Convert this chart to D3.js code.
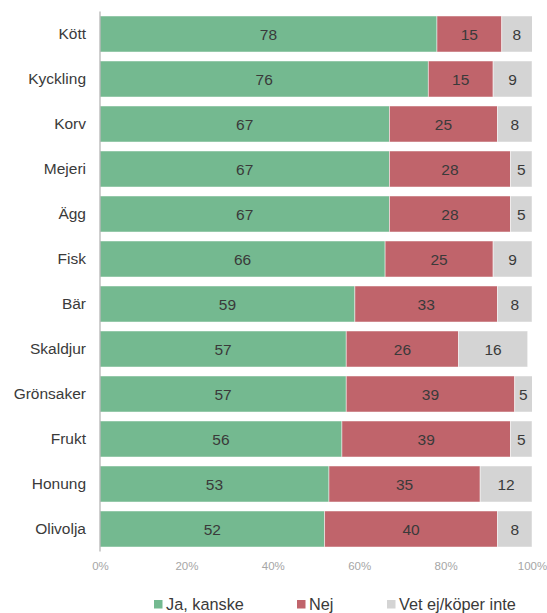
<!DOCTYPE html>
<html>
<head>
<meta charset="utf-8">
<script src="https://cdn.jsdelivr.net/npm/d3@7"></script>
<style>
  html, body { margin: 0; padding: 0; background: #fff; }
  svg { display: block; font-family: Arial, "Liberation Sans", sans-serif; }
</style>
</head>
<body>
<svg id="chart" width="547" height="613"></svg>
<script>
const categories = ["Kött", "Kyckling", "Korv", "Mejeri", "Ägg", "Fisk", "Bär", "Skaldjur", "Grönsaker", "Frukt", "Honung", "Olivolja"];
const jaKanske = [78, 76, 67, 67, 67, 66, 59, 57, 57, 56, 53, 52];
const nej = [15, 15, 25, 28, 28, 25, 33, 26, 39, 39, 35, 40];
const vetEj = [8, 9, 8, 5, 5, 9, 8, 16, 5, 5, 12, 8];
const seriesNames = ["Ja, kanske", "Nej", "Vet ej/köper inte"];
const tickValues = [0, 20, 40, 60, 80, 100];

const colors = ["#74b990", "#c0646b", "#d4d4d4"];
const textColor = "#3a3a3a";
const fontFamily = "Arial, 'Liberation Sans', sans-serif";

const svg = d3.select("#chart");
const margin = { left: 100, top: 11.5, bottom: 61.5 };
const W = 547, H = 613;

const x = d3.scaleLinear().domain([0, 100]).range([margin.left, 532]);
const y = d3.scaleBand().domain(categories).range([margin.top, H - margin.bottom]).paddingInner(0.2).paddingOuter(0.1);

const rows = categories.map((c, i) => ({ cat: c, "Ja, kanske": jaKanske[i], "Nej": nej[i], "Vet ej/köper inte": vetEj[i] }));
const stack = d3.stack().keys(seriesNames)(rows);

svg.append("defs").append("clipPath").attr("id", "plotclip")
  .append("rect").attr("x", x(0)).attr("y", 0).attr("width", x(100) - x(0)).attr("height", H);

const plot = svg.append("g").attr("clip-path", "url(#plotclip)");

const layers = plot.selectAll("g.layer").data(stack).join("g").attr("class", "layer")
  .attr("fill", (d, i) => colors[i]);

layers.selectAll("rect").data(d => d).join("rect")
  .attr("x", d => x(d[0]))
  .attr("y", d => y(d.data.cat))
  .attr("width", d => x(d[1]) - x(d[0]))
  .attr("height", y.bandwidth())
  .attr("stroke", "#ffffff")
  .attr("stroke-opacity", 0.6)
  .attr("stroke-width", 0.8);

// value labels centred in each segment
stack.forEach(layer => {
  plot.append("g").selectAll("text").data(layer).join("text")
    .attr("x", d => (x(d[0]) + Math.min(x(d[1]), x(100))) / 2)
    .attr("y", d => y(d.data.cat) + y.bandwidth() / 2)
    .attr("dy", "0.36em")
    .attr("text-anchor", "middle")
    .attr("font-size", 15.5)
    .attr("font-family", fontFamily)
    .attr("fill", textColor)
    .text(d => d.data[layer.key]);
});

// category axis
const yAxis = svg.append("g").attr("transform", `translate(${x(0)},0)`)
  .call(d3.axisLeft(y).tickSize(0).tickPadding(14));
yAxis.select(".domain").attr("stroke", "#b0b0b0").attr("stroke-width", 1.2)
  .attr("d", `M0,${margin.top}V${H - margin.bottom}`);
yAxis.selectAll("text").attr("font-size", 15.5).attr("fill", textColor)
  .attr("font-family", fontFamily);

// percentage axis
const xAxis = svg.append("g").attr("transform", `translate(0,${H - margin.bottom})`)
  .call(d3.axisBottom(x).tickValues(tickValues).tickFormat(d => d + "%").tickSize(0).tickPadding(10));
xAxis.select(".domain").remove();
xAxis.selectAll("text").attr("font-size", 11.5).attr("fill", "#a6a6a6")
  .attr("font-family", fontFamily);

// legend
const legendX = [154, 297, 387];
const legend = svg.append("g");
seriesNames.forEach((name, i) => {
  legend.append("rect").attr("x", legendX[i]).attr("y", 600).attr("width", 8.5).attr("height", 8.5).attr("fill", colors[i]);
  legend.append("text").attr("x", legendX[i] + 12).attr("y", 610)
    .attr("font-size", 16.3).attr("font-family", fontFamily).attr("fill", textColor).text(name);
});
</script>
</body>
</html>
